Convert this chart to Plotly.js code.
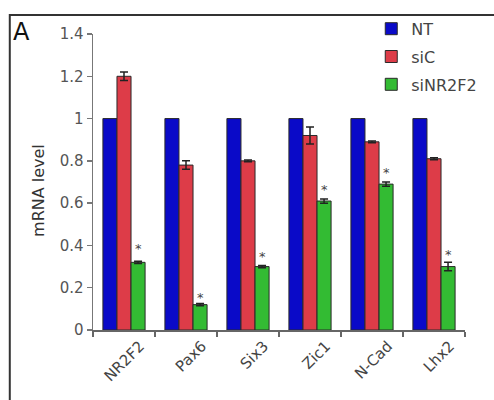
<!DOCTYPE html>
<html><head><meta charset="utf-8">
<script src="https://cdn.plot.ly/plotly-3.0.1.min.js"></script>
<style>html,body{margin:0;padding:0;background:#fff}#c{width:494px;height:400px}</style>
</head><body><div id="c"></div>
<script>
const genes = ["NR2F2","Pax6","Six3","Zic1","N-Cad","Lhx2"];
const ntVals = [1,1,1,1,1,1];
const siCVals = [1.2,0.78,0.80,0.92,0.89,0.81];
const siCErr = [0.02,0.02,0.004,0.04,0.004,0.005];
const siNRVals = [0.32,0.12,0.30,0.61,0.69,0.30];
const siNRErr = [0.005,0.005,0.005,0.01,0.01,0.02];
const sigY = [0.40,0.17,0.36,0.68,0.76,0.37];
const yTicks = [0,0.2,0.4,0.6,0.8,1,1.2,1.4];

const line = {color:'#2a2a2a', width:1};
const errStyle = {type:'data', visible:true, color:'#222', thickness:1.5, width:4};
const traces = [
  {type:'bar', name:'NT', legendgroup:'a', x:genes, y:ntVals, marker:{color:'#0a0ac8', line:line}},
  {type:'bar', name:'siC', legendgroup:'b', x:genes, y:siCVals, marker:{color:'#dd3c48', line:line},
   error_y:Object.assign({array:siCErr}, errStyle)},
  {type:'bar', name:'siNR2F2', legendgroup:'c', x:genes, y:siNRVals, marker:{color:'#33bb33', line:line},
   error_y:Object.assign({array:siNRErr}, errStyle)}
];
const ann = genes.map((g,i)=>({x:g, y:sigY[i], xref:'x', yref:'y', text:'*', showarrow:false,
  xshift:14, yanchor:'middle', yshift:-3, font:{family:'DejaVu Sans', size:13, color:'#444'}}));
ann.push({x:-0.22, y:1.06, xref:'paper', yref:'paper', text:'A', showarrow:false,
  xanchor:'left', yanchor:'top', font:{family:'DejaVu Sans', size:24, color:'#111'}});
ann.push({x:-0.145, y:0.47, xref:'paper', yref:'paper', text:'mRNA level', showarrow:false,
  textangle:-90, xanchor:'center', yanchor:'middle', font:{family:'DejaVu Sans', size:16, color:'#333'}});
const layout = {
  width:494, height:400,
  margin:{l:93, r:21, t:32, b:70},
  paper_bgcolor:'#fff', plot_bgcolor:'#fff',
  font:{family:'DejaVu Sans', color:'#444'},
  barmode:'group', bargap:0.32, bargroupgap:0,
  showlegend:true,
  legend:{x:0.748, y:1.075, xanchor:'left', yanchor:'top', bgcolor:'rgba(0,0,0,0)',
    font:{family:'DejaVu Sans', size:16, color:'#444'}, tracegroupgap:4},
  xaxis:{type:'category', showline:true, linecolor:'#666', linewidth:1.5,
    ticks:'outside', tickson:'boundaries', ticklen:5, tickcolor:'#666', tickwidth:1.5,
    tickangle:-45, ticklabelshift:16, tickfont:{family:'DejaVu Sans', size:15, color:'#444'}, showgrid:false},
  yaxis:{range:[0,1.4], tickvals:yTicks, showline:true, linecolor:'#777', linewidth:1.5,
    ticks:'outside', ticklen:5, tickcolor:'#777', tickwidth:1.5, showgrid:false, zeroline:false,
    tickfont:{family:'DejaVu Sans', size:15, color:'#555'}},
  annotations:ann,
  shapes:[{type:'rect', xref:'paper', yref:'paper', x0:-0.2237, x1:1.2, y0:-0.3, y1:1.0638,
    line:{color:'#333', width:2}}]
};
Plotly.newPlot('c', traces, layout, {displayModeBar:false, staticPlot:true});
</script></body></html>
